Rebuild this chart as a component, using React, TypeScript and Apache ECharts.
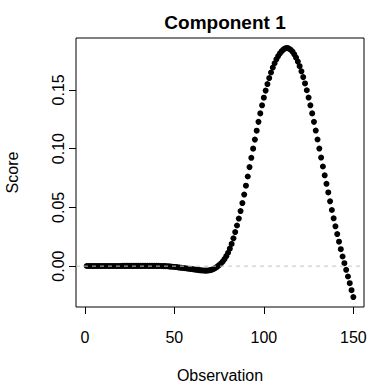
import React, { useEffect, useRef } from "react";
import * as echarts from "echarts";

const scores: number[] = [
  0.0001, 0.0001, 0.0001, 0.0001, 0.0001, 0.0001, 0.0001, 0.0001, 0.0001, 0.0001,
  0.0001, 0.0001, 0.0001, 0.0001, 0.0001, 0.0001, 0.0001, 0.0001, 0.0001, 0.0001,
  0.0002, 0.0002, 0.0002, 0.0002, 0.0002, 0.0002, 0.0002, 0.0002, 0.0002, 0.0002,
  0.0002, 0.0002, 0.0002, 0.0002, 0.0002, 0.0002, 0.0002, 0.0002, 0.0002, 0.0002,
  0.0002, 0.0001, 0.0001, 0.0, 0.0, -0.0001, -0.0002, -0.0004, -0.0005, -0.0007,
  -0.0008, -0.001, -0.0012, -0.0014, -0.0016, -0.0018, -0.002, -0.0022, -0.0024, -0.0026,
  -0.0028, -0.003, -0.0032, -0.0034, -0.0036, -0.0037, -0.0038, -0.0038, -0.0037, -0.0034,
  -0.003, -0.0023, -0.0014, -0.0004, 0.0008, 0.0022, 0.0039, 0.006, 0.0085, 0.0114,
  0.0149, 0.0189, 0.0237, 0.029, 0.0346, 0.0405, 0.0469, 0.0537, 0.0609, 0.0685,
  0.0763, 0.0843, 0.0922, 0.1, 0.1077, 0.1153, 0.1228, 0.13, 0.1369, 0.1434,
  0.1494, 0.155, 0.1601, 0.1648, 0.169, 0.1727, 0.176, 0.1788, 0.1811, 0.183,
  0.1845, 0.1854, 0.1857, 0.1852, 0.1842, 0.1826, 0.1803, 0.1774, 0.1741, 0.1702,
  0.1658, 0.1609, 0.1555, 0.1497, 0.1435, 0.1369, 0.13, 0.1228, 0.1154, 0.1078,
  0.1001, 0.0924, 0.0848, 0.0773, 0.0701, 0.0627, 0.0552, 0.0478, 0.0407, 0.0339,
  0.0273, 0.0208, 0.0144, 0.0082, 0.0025, -0.0031, -0.0088, -0.0145, -0.0205, -0.0263,
];

const xTicks: number[] = [0, 50, 100, 150];
const yTicks: number[] = [0, 0.05, 0.1, 0.15];
const yTickLabels: string[] = ["0.00", "0.05", "0.10", "0.15"];
const refLineValue = 0;

const FONT = "'Liberation Sans', Arial, Helvetica, sans-serif";

export default function App() {
  const ref = useRef<HTMLDivElement>(null);

  useEffect(() => {
    if (!ref.current) return;
    const chart = echarts.init(ref.current, undefined, { renderer: "svg" });

    const n = scores.length;
    const xPad = (n - 1) * 0.04;
    const xMin = 1 - xPad;
    const xMax = n + xPad;
    const yLo = Math.min(...scores);
    const yHi = Math.max(...scores);
    const yPad = (yHi - yLo) * 0.04;
    const yMin = yLo - yPad;
    const yMax = yHi + yPad;

    const points = scores.map((v, i) => [i + 1, v]);

    chart.setOption({
      animation: false,
      backgroundColor: "#ffffff",
      title: {
        text: "Component 1",
        left: 220,
        top: 8,
        textAlign: "center",
        textStyle: { fontFamily: FONT, fontSize: 19, fontWeight: "bold", color: "#000" },
      },
      grid: {
        left: 76,
        right: 20,
        top: 38,
        bottom: 77,
        containLabel: false,
        outerBoundsMode: "none",
        show: true,
        borderColor: "#000",
        borderWidth: 1,
        backgroundColor: "transparent",
      },
      xAxis: {
        type: "value",
        min: xMin,
        max: xMax,
        position: "bottom",
        name: "Observation",
        nameLocation: "middle",
        nameGap: 60,
        nameTextStyle: { fontFamily: FONT, fontSize: 16, color: "#000" },
        axisLine: { show: false, onZero: false },
        splitLine: { show: false },
        axisTick: {
          show: true,
          length: 7,
          customValues: xTicks,
          lineStyle: { color: "#000", width: 1 },
        },
        axisLabel: {
          customValues: xTicks,
          margin: 22,
          fontFamily: FONT,
          fontSize: 16,
          color: "#000",
        },
      },
      yAxis: {
        type: "value",
        min: yMin,
        max: yMax,
        position: "left",
        name: "Score",
        nameLocation: "middle",
        nameGap: 56,
        nameRotate: 90,
        nameTextStyle: { fontFamily: FONT, fontSize: 16, color: "#000" },
        axisLine: { show: false, onZero: false },
        splitLine: { show: false },
        axisTick: {
          show: true,
          length: 7,
          customValues: yTicks,
          lineStyle: { color: "#000", width: 1 },
        },
        axisLabel: {
          customValues: yTicks,
          rotate: 90,
          margin: 10,
          fontFamily: FONT,
          fontSize: 16,
          color: "#000",
          formatter: (v: number) => {
            const idx = yTicks.findIndex((t) => Math.abs(t - v) < 1e-9);
            return idx >= 0 ? yTickLabels[idx] : "";
          },
        },
      },
      series: [
        {
          type: "scatter",
          data: points,
          symbol: "circle",
          symbolSize: 6,
          itemStyle: { color: "#000", opacity: 1 },
          z: 2,
          silent: true,
        },
        {
          type: "line",
          data: [
            [xMin, refLineValue],
            [xMax, refLineValue],
          ],
          symbol: "none",
          lineStyle: { color: "#c4c4c4", width: 1, type: [4, 4] },
          z: 3,
          silent: true,
        },
      ],
    });

    return () => chart.dispose();
  }, []);

  return (
    <div
      ref={ref}
      style={{ position: "fixed", left: 0, top: 0, width: 384, height: 384, background: "#fff" }}
    />
  );
}
